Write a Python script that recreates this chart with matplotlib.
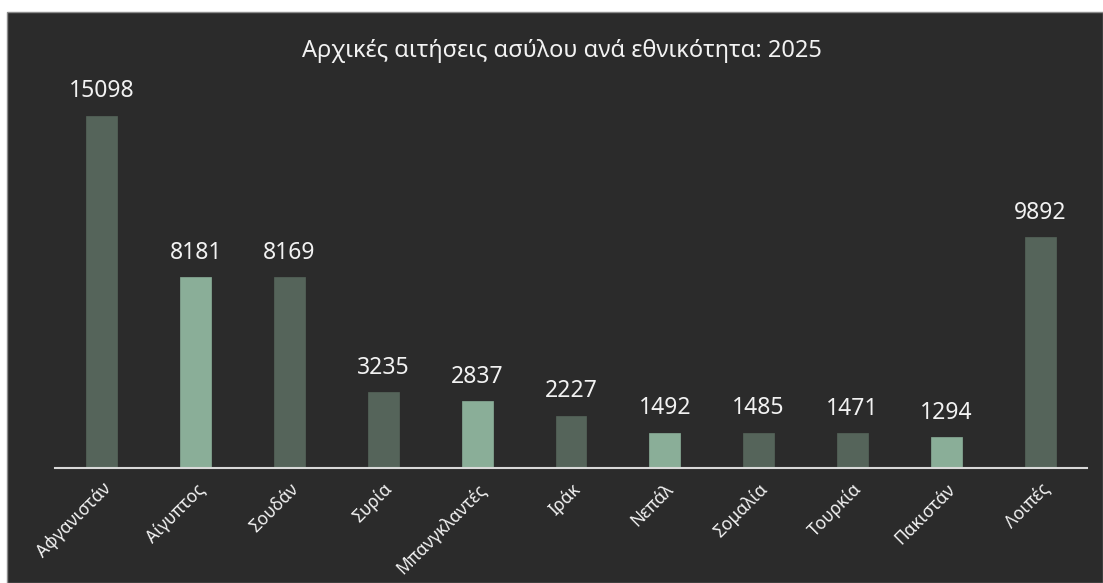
import matplotlib.pyplot as plt
from matplotlib.patches import Rectangle

plt.rcParams['font.family'] = ['Noto Sans', 'DejaVu Sans']

# Data
countries = ['Αφγανιστάν', 'Αίγυπτος', 'Σουδάν', 'Συρία', 'Μπανγκλαντές', 'Ιράκ',
             'Νεπάλ', 'Σομαλία', 'Τουρκία', 'Πακιστάν', 'Λοιπές']
applications = [15098, 8181, 8169, 3235, 2837, 2227, 1492, 1485, 1471, 1294, 9892]
highlight = [False, True, False, False, True, False, True, False, False, True, False]

bg = '#2b2b2b'
dark_bar = '#55645a'
light_bar = '#8aae98'
txt = '#f2f2f2'

fig = plt.figure(figsize=(11.03, 5.83), dpi=100, facecolor='white')
W, H = 1103, 583
fig.patches.append(Rectangle((7 / W, 0), 1 - 7 / W, 1 - 12 / H, transform=fig.transFigure,
                             facecolor=bg, edgecolor='#8c8c8c', linewidth=1, zorder=-10))

ax = fig.add_axes([55 / W, 1 - 467.5 / H, (1087 - 55) / W, (467.5 - 95) / H])
ax.set_facecolor('none')

colors = [light_bar if h else dark_bar for h in highlight]
x = range(len(countries))
bars = ax.bar(x, applications, width=0.33, color=colors, edgecolor=colors, linewidth=0.5, zorder=2)

for xi, v in zip(x, applications):
    ax.annotate(str(v), (xi, v), xytext=(0, 9), textcoords='offset points',
                ha='center', va='bottom', color=txt, fontsize=16.5)

ax.set_xlim(-0.5, len(countries) - 0.5)
ax.set_ylim(0, 16000)
ax.set_yticks([])
ax.set_xticks(list(x))
ax.set_xticklabels(countries, rotation=45, ha='right', rotation_mode='anchor',
                   color=txt, fontsize=12.5)
ax.tick_params(axis='x', length=0, pad=9)
for s in ['top', 'right', 'left']:
    ax.spines[s].set_visible(False)
ax.spines['bottom'].set_color('#d9d9d9')
ax.spines['bottom'].set_linewidth(1.5)

fig.text(562 / W, 1 - 51 / H, 'Αρχικές αιτήσεις ασύλου ανά εθνικότητα: 2025',
         ha='center', va='center', color=txt, fontsize=17)

fig.savefig('out.png', dpi=100, facecolor=fig.get_facecolor())
